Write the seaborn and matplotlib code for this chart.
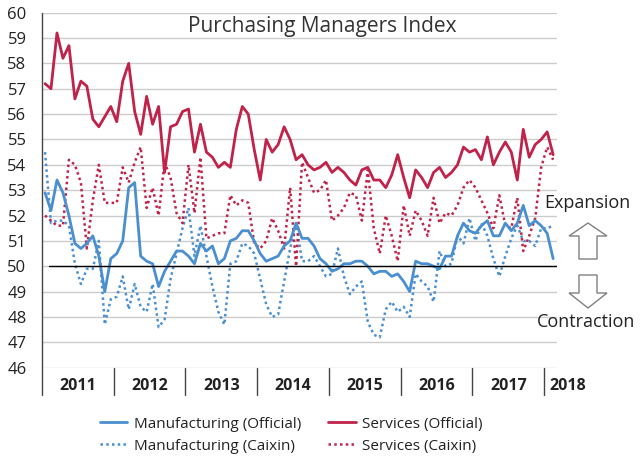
import numpy as np
import matplotlib
matplotlib.use("Agg")
import matplotlib.pyplot as plt
import matplotlib.transforms as mtransforms
from matplotlib.patches import FancyArrow
from matplotlib.lines import Line2D
import seaborn as sns

# monthly PMI, Jan 2011 - Feb 2018
years = [2011, 2012, 2013, 2014, 2015, 2016, 2017, 2018]

mfg_official = [52.9, 52.2, 53.4, 52.9, 52.0, 50.9, 50.7, 50.9, 51.2, 50.4, 49.0, 50.3,
                50.5, 51.0, 53.1, 53.3, 50.4, 50.2, 50.1, 49.2, 49.8, 50.2, 50.6, 50.6,
                50.4, 50.1, 50.9, 50.6, 50.8, 50.1, 50.3, 51.0, 51.1, 51.4, 51.4, 51.0,
                50.5, 50.2, 50.3, 50.4, 50.8, 51.0, 51.7, 51.1, 51.1, 50.8, 50.3, 50.1,
                49.8, 49.9, 50.1, 50.1, 50.2, 50.2, 50.0, 49.7, 49.8, 49.8, 49.6, 49.7,
                49.4, 49.0, 50.2, 50.1, 50.1, 50.0, 49.9, 50.4, 50.4, 51.2, 51.7, 51.4,
                51.3, 51.6, 51.8, 51.2, 51.2, 51.7, 51.4, 51.7, 52.4, 51.6, 51.8, 51.6,
                51.3, 50.3]

svc_official = [57.2, 57.0, 59.2, 58.2, 58.7, 56.6, 57.3, 57.1, 55.8, 55.5, 55.9, 56.3,
                55.7, 57.3, 58.0, 56.1, 55.2, 56.7, 55.6, 56.3, 53.7, 55.5, 55.6, 56.1,
                56.2, 54.5, 55.6, 54.5, 54.3, 53.9, 54.1, 53.9, 55.4, 56.3, 56.0, 54.6,
                53.4, 55.0, 54.5, 54.8, 55.5, 55.0, 54.2, 54.4, 54.0, 53.8, 53.9, 54.1,
                53.7, 53.9, 53.7, 53.4, 53.2, 53.8, 53.9, 53.4, 53.4, 53.1, 53.6, 54.4,
                53.5, 52.7, 53.8, 53.5, 53.1, 53.7, 53.9, 53.5, 53.7, 54.0, 54.7, 54.5,
                54.6, 54.2, 55.1, 54.0, 54.5, 54.9, 54.5, 53.4, 55.4, 54.3, 54.8, 55.0,
                55.3, 54.4]

mfg_caixin = [54.5, 51.7, 51.8, 51.8, 51.6, 50.1, 49.3, 49.9, 49.9, 51.0, 47.7, 48.7,
              48.8, 49.6, 48.3, 49.3, 48.4, 48.2, 49.3, 47.6, 47.9, 49.5, 50.5, 51.5,
              52.3, 50.4, 51.6, 50.4, 49.2, 48.2, 47.7, 50.1, 50.2, 50.9, 50.8, 50.5,
              49.5, 48.5, 48.0, 48.1, 49.4, 50.7, 51.7, 50.2, 50.2, 50.4, 50.0, 49.6,
              49.7, 50.7, 49.6, 48.9, 49.2, 49.4, 47.8, 47.3, 47.2, 48.3, 48.6, 48.2,
              48.4, 48.0, 49.7, 49.4, 49.2, 48.6, 50.6, 50.0, 50.1, 51.2, 50.9, 51.9,
              51.0, 51.7, 51.2, 50.3, 49.6, 50.4, 51.1, 51.6, 51.0, 51.0, 50.8, 51.5,
              51.5, 51.6]

svc_caixin = [52.0, 51.8, 51.6, 51.6, 54.2, 54.0, 53.3, 50.7, 52.6, 54.0, 52.5, 52.5,
              52.5, 53.9, 53.3, 54.1, 54.7, 52.3, 53.1, 52.0, 54.1, 53.5, 52.1, 51.7,
              54.0, 52.1, 54.3, 51.1, 51.2, 51.3, 51.3, 52.8, 52.4, 52.6, 52.5, 50.9,
              50.7, 51.0, 51.9, 51.4, 50.7, 53.1, 50.0, 54.1, 53.5, 52.9, 53.0, 53.4,
              51.8, 52.0, 52.3, 52.9, 52.8, 51.8, 53.8, 51.5, 50.5, 52.0, 51.2, 50.2,
              52.4, 51.2, 52.2, 51.8, 51.2, 52.7, 51.7, 52.1, 52.0, 52.4, 53.1, 53.4,
              53.1, 52.6, 52.1, 51.5, 52.8, 51.6, 51.5, 52.7, 50.6, 51.2, 51.9, 53.9,
              54.7, 54.2]

sns.set_style("white")
plt.rcParams['font.family'] = ['Open Sans', 'DejaVu Sans']

blue = '#4a8fd0'
red = '#c0224a'
dot = (0, (1, 1.3))
months = np.arange(len(mfg_official))

fig = plt.figure(figsize=(6.4, 4.61), dpi=100)
ax = fig.add_axes([0.0652, 0.2024, 0.8047, 0.7701])

# dotted first, solid on top
sns.lineplot(x=months, y=mfg_caixin, ax=ax, color=blue, lw=1.8, linestyle=dot)
sns.lineplot(x=months, y=svc_caixin, ax=ax, color=red, lw=1.8, linestyle=dot)
sns.lineplot(x=months, y=mfg_official, ax=ax, color=blue, lw=2.0)
sns.lineplot(x=months, y=svc_official, ax=ax, color=red, lw=2.0)

ax.set_xlim(-0.55, 85.6)
ax.set_ylim(46, 60)
ax.set_yticks(range(46, 61))
ax.set_xticks([])
ax.grid(axis='y', color='#cccccc', lw=1)
ax.set_axisbelow(True)
ax.tick_params(axis='y', length=0, pad=11, labelsize=12, labelcolor='#222222')
for s in ax.spines.values():
    s.set_visible(False)
ax.set_xlabel('')
ax.set_ylabel('')

ax.axhline(50, xmin=0.015, color='black', lw=1)

ax.text(0.545, 0.96, 'Purchasing Managers Index', transform=ax.transAxes,
        ha='center', va='center', fontsize=15, color='#333333')

# year category axis
trans = mtransforms.blended_transform_factory(ax.transData, ax.transAxes)
ax.plot([-0.55, -0.55], [1, -0.077], transform=trans, clip_on=False, color='#444444', lw=1)
for k, yr in enumerate(years):
    b = 12 * k + 11.5
    if b < len(months):
        ax.plot([b, b], [0, -0.077], transform=trans, clip_on=False, color='#444444', lw=1)
    if 12 * k + 11 < len(months):
        ax.text(12 * k + 5.5, -0.052, str(yr), transform=trans, ha='center', va='center',
                fontsize=11.5, fontweight='bold', color='#222222')
    else:
        ax.text(12 * k - 0.5 + 0.8, -0.052, str(yr), transform=trans, ha='left', va='center',
                fontsize=11.5, fontweight='bold', color='#222222')

# expansion / contraction
fig.text(0.917, 0.560, 'Expansion', ha='center', va='center', fontsize=13, color='#222222')
fig.text(0.916, 0.302, 'Contraction', ha='center', va='center', fontsize=13, color='#222222')
up = FancyArrow(588 / 640, (461 - 259) / 461, 0, 36 / 461, width=18 / 640,
                head_width=38 / 640, head_length=13 / 461, length_includes_head=True,
                transform=fig.transFigure, facecolor='white', edgecolor='#808080', lw=1)
down = FancyArrow(588 / 640, (461 - 275) / 461, 0, -33 / 461, width=18 / 640,
                  head_width=38 / 640, head_length=15 / 461, length_includes_head=True,
                  transform=fig.transFigure, facecolor='white', edgecolor='#808080', lw=1)
fig.patches.extend([up, down])

handles = [Line2D([], [], color=blue, lw=2.0),
           Line2D([], [], color=blue, lw=1.8, linestyle=dot),
           Line2D([], [], color=red, lw=2.0),
           Line2D([], [], color=red, lw=1.8, linestyle=dot)]
labels = ['Manufacturing (Official)', 'Manufacturing (Caixin)',
          'Services (Official)', 'Services (Caixin)']
fig.legend(handles, labels, loc='center', bbox_to_anchor=(0.455, 0.056), ncol=2,
           frameon=False, fontsize=11, handlelength=1.8, handletextpad=0.4,
           columnspacing=1.8, labelspacing=0.45, labelcolor='#222222')

fig.savefig('out.png', dpi=100)
